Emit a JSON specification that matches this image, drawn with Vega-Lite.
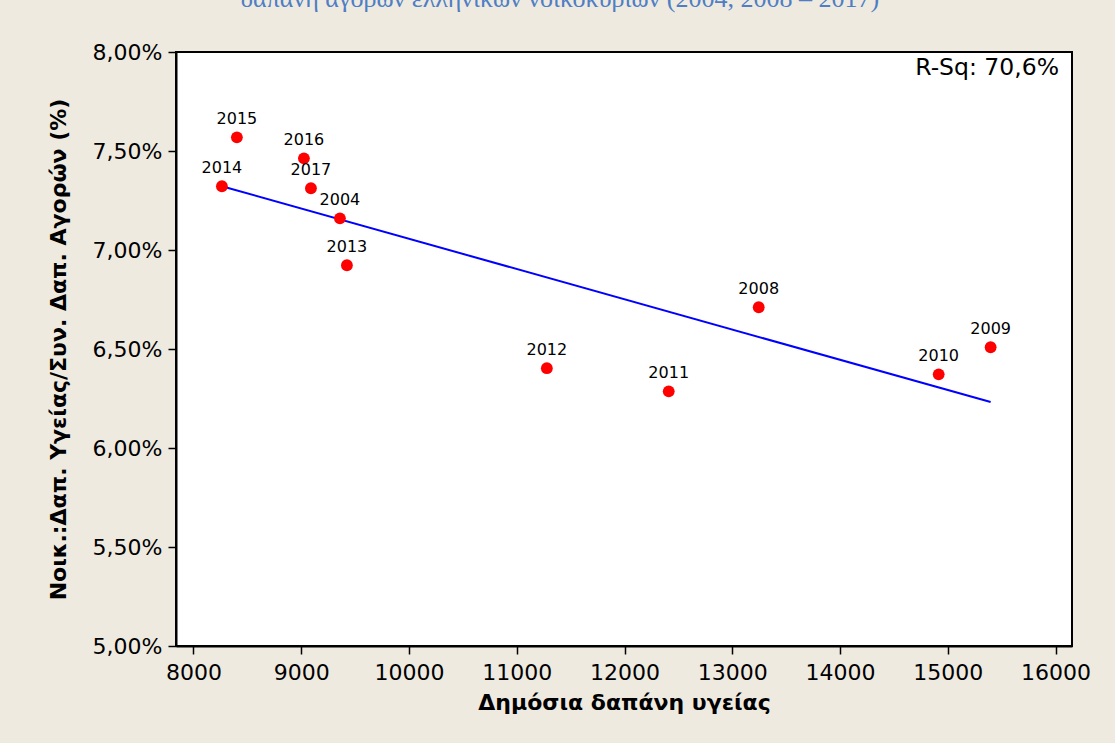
{
  "$schema": "https://vega.github.io/schema/vega-lite/v6.json",
  "width": 896,
  "height": 594,
  "autosize": {"type": "none"},
  "padding": {"left": 176, "top": 52, "right": 43, "bottom": 97},
  "background": "#EEEAE0",
  "title": {
    "text": "δαπάνη αγορών ελληνικών νοικοκυριών (2004, 2008 – 2017)",
    "font": "Liberation Serif",
    "fontSize": 26,
    "fontWeight": "normal",
    "color": "#4F7EC4",
    "anchor": "middle",
    "orient": "top",
    "baseline": "alphabetic",
    "offset": 0,
    "dx": -64,
    "dy": -8
  },
  "config": {
    "view": {"fill": "white", "stroke": "black", "strokeWidth": 2},
    "axis": {
      "labelFont": "DejaVu Sans",
      "labelFontSize": 22,
      "labelColor": "black",
      "titleFont": "DejaVu Sans",
      "titleFontWeight": "bold",
      "titleFontSize": 22,
      "titleColor": "black",
      "domainColor": "black",
      "domainWidth": 2,
      "tickColor": "black",
      "tickWidth": 1.5,
      "tickSize": 8,
      "grid": false
    }
  },
  "datasets": {
    "points": [
      {"year": "2004", "spend": 9359, "share": 7.16},
      {"year": "2008", "spend": 13245, "share": 6.711},
      {"year": "2009", "spend": 15397, "share": 6.509},
      {"year": "2010", "spend": 14915, "share": 6.372},
      {"year": "2011", "spend": 12410, "share": 6.286},
      {"year": "2012", "spend": 11279, "share": 6.403},
      {"year": "2013", "spend": 9424, "share": 6.923},
      {"year": "2014", "spend": 8264, "share": 7.322},
      {"year": "2015", "spend": 8403, "share": 7.569},
      {"year": "2016", "spend": 9025, "share": 7.463},
      {"year": "2017", "spend": 9090, "share": 7.312}
    ],
    "fit": [
      {"spend": 8264, "share": 7.322},
      {"spend": 15397, "share": 6.232}
    ],
    "annot": [
      {"spend": 16152, "share": 8.0, "label": "R-Sq: 70,6%"}
    ]
  },
  "encoding": {
    "x": {
      "field": "spend",
      "type": "quantitative",
      "scale": {"domain": [7838, 16152], "nice": false, "zero": false},
      "axis": {
        "title": "Δημόσια δαπάνη υγείας",
        "values": [8000, 9000, 10000, 11000, 12000, 13000, 14000, 15000, 16000],
        "format": "d",
        "labelPadding": 8,
        "titlePadding": 9
      }
    },
    "y": {
      "field": "share",
      "type": "quantitative",
      "scale": {"domain": [5, 8], "nice": false, "zero": false},
      "axis": {
        "title": "Νοικ.:Δαπ. Υγείας/Συν. Δαπ. Αγορών (%)",
        "values": [5, 5.5, 6, 6.5, 7, 7.5, 8],
        "labelExpr": "replace(format(datum.value, '.2f'), '.', ',') + '%'",
        "labelPadding": 6,
        "titlePadding": 22
      }
    }
  },
  "layer": [
    {
      "data": {"name": "fit"},
      "mark": {"type": "line", "color": "#0000FF", "strokeWidth": 2},
      "encoding": {}
    },
    {
      "data": {"name": "points"},
      "mark": {"type": "circle", "color": "#FF0000", "opacity": 1, "size": 140},
      "encoding": {}
    },
    {
      "data": {"name": "points"},
      "mark": {"type": "text", "font": "DejaVu Sans", "fontSize": 16, "color": "black", "baseline": "alphabetic", "dy": -13},
      "encoding": {"text": {"field": "year"}}
    },
    {
      "data": {"name": "annot"},
      "mark": {"type": "text", "font": "DejaVu Sans", "fontSize": 23.5, "color": "black", "align": "right", "baseline": "alphabetic", "dx": -13, "dy": 23},
      "encoding": {"text": {"field": "label"}}
    }
  ]
}
